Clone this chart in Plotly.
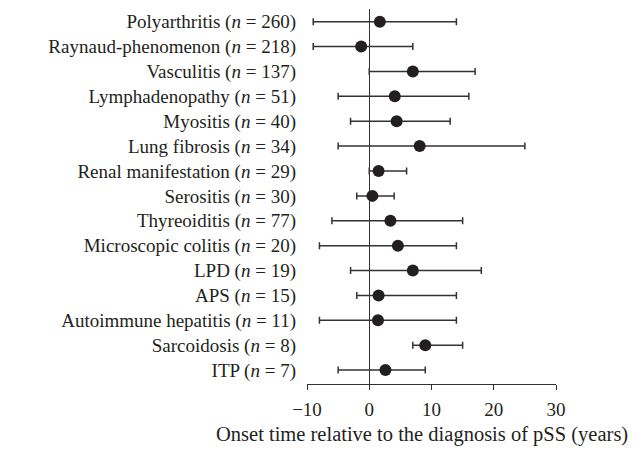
import plotly.graph_objects as go

conditions = ["Polyarthritis", "Raynaud-phenomenon", "Vasculitis", "Lymphadenopathy",
              "Myositis", "Lung fibrosis", "Renal manifestation", "Serositis",
              "Thyreoiditis", "Microscopic colitis", "LPD", "APS",
              "Autoimmune hepatitis", "Sarcoidosis", "ITP"]
n_values = [260, 218, 137, 51, 40, 34, 29, 30, 77, 20, 19, 15, 11, 8, 7]
median = [1.7, -1.3, 7.0, 4.1, 4.4, 8.1, 1.5, 0.5, 3.4, 4.6, 7.0, 1.5, 1.4, 9.0, 2.6]
low = [-9, -9, 0, -5, -3, -5, 0, -2, -6, -8, -3, -2, -8, 7, -5]
high = [14, 7, 17, 16, 13, 25, 6, 4, 15, 14, 18, 14, 14, 15, 9]
x_ticks = [-10, 0, 10, 20, 30]

labels = [f"{c} (<i>n</i> = {n})" for c, n in zip(conditions, n_values)]
ypos = list(range(len(conditions)))

FONT = "Liberation Serif"
INK = "#231f20"

fig = go.Figure()
fig.add_trace(go.Scatter(
    x=median, y=ypos, mode="markers",
    marker=dict(size=12, color=INK),
    error_x=dict(type="data", symmetric=False,
                 array=[h - m for h, m in zip(high, median)],
                 arrayminus=[m - l for m, l in zip(median, low)],
                 color="#333333", thickness=1.5, width=3.5),
    showlegend=False,
))

fig.update_layout(
    width=635, height=449,
    margin=dict(l=307, r=79, t=9, b=65),
    paper_bgcolor="white", plot_bgcolor="white",
    font=dict(family=FONT, size=19, color=INK),
    xaxis=dict(range=[-10, 30], tickvals=x_ticks,
               ticktext=["\u221210" if v < 0 else str(v) for v in x_ticks],
               showgrid=False, zeroline=True, zerolinecolor="#333333", zerolinewidth=1.3,
               showline=True, linecolor="#333333", linewidth=1.3,
               ticks="outside", ticklen=5, tickwidth=1.3, tickcolor="#333333",
               ticklabelstandoff=3, tickfont=dict(size=19)),
    yaxis=dict(range=[14.56, -0.51], tickvals=ypos, ticktext=labels,
               showgrid=False, zeroline=False, showline=False, ticks="",
               ticklabelstandoff=10, tickfont=dict(size=19)),
    annotations=[dict(text="Onset time relative to the diagnosis of pSS (years)",
                      xref="paper", yref="paper", x=0.462, y=-0.135,
                      xanchor="center", yanchor="middle", showarrow=False,
                      font=dict(size=20.5, family=FONT, color=INK))],
)

fig.write_html("out.html", config={"displayModeBar": False},
               post_script="document.body.style.margin='0';")
